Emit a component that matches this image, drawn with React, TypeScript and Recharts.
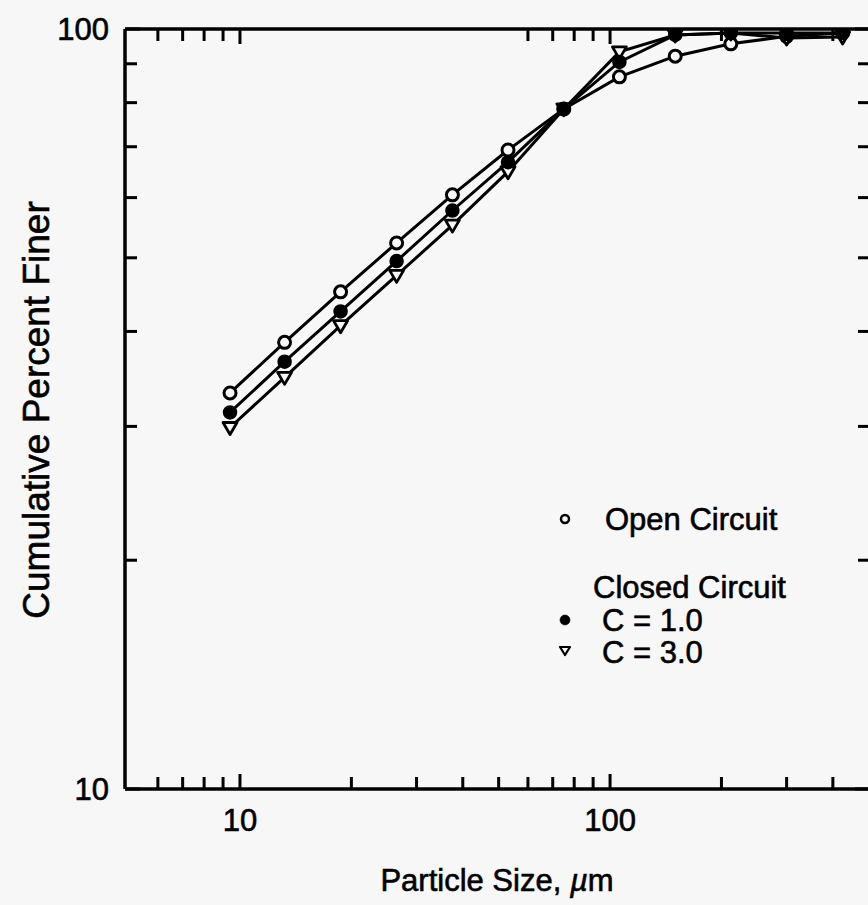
import React from 'react';
import { LineChart, Line, XAxis, YAxis, Customized } from 'recharts';

// Sieve sizes (µm)
const sizes = [9.4, 13.2, 18.7, 26.5, 37.5, 53, 75, 106, 150, 212, 300, 425];
// Cumulative percent finer
const openCircuit = [33.2, 38.7, 45.1, 52.3, 60.5, 69.3, 78.5, 86.5, 92.1, 95.6, 97.8, 98.8];
const closedC1 = [31.3, 36.5, 42.5, 49.5, 57.7, 66.8, 78.5, 90.5, 98.2, 98.8, 98.8, 98.8];
const closedC3 = [29.9, 34.8, 40.7, 47.4, 55.2, 64.9, 78.5, 93.3, 98.2, 98.8, 97.3, 97.6];

const xTicksBottom = [6, 7, 8, 9, 10, 20, 30, 40, 50, 60, 70, 80, 90, 100, 200, 300, 400];
const xTicksTop = [6, 7, 8, 9, 10, 60, 70, 80, 90, 100, 200, 300, 400];
const yTicks = [10, 20, 30, 40, 50, 60, 70, 80, 90, 100];
const tickLabels = [10, 100];

const data = sizes.map((s, i) => ({ size: s, open: openCircuit[i], c1: closedC1[i], c3: closedC3[i] }));

const BG = '#f7f7f7';
const FONT = '"Liberation Sans", Arial, Helvetica, sans-serif';
const FS = 31;
const TS = { stroke: '#000', strokeWidth: 0.6 };

const makeTick = (orient: string) => (props: any) => {
  const { x, y, payload, index } = props;
  const v = payload.value;
  const major = v === 10 || v === 100;
  const len = major ? 15 : 12;
  const show = tickLabels.includes(v);
  let line;
  let label = null;
  if (orient === 'bottom') {
    line = <line x1={x} y1={y} x2={x} y2={y - len} stroke="#000" strokeWidth={3} />;
    if (show) label = <text x={x} y={y + 42} textAnchor="middle" fontSize={FS} fontFamily={FONT} fill="#000" {...TS}>{v}</text>;
  } else if (orient === 'top') {
    line = <line x1={x} y1={y} x2={x} y2={y + len} stroke="#000" strokeWidth={3} />;
  } else if (orient === 'left') {
    line = <line x1={x} y1={y} x2={x + len} y2={y} stroke="#000" strokeWidth={3} />;
    if (show) label = <text x={x - 16} y={y + 11} textAnchor="end" fontSize={FS} fontFamily={FONT} fill="#000" {...TS}>{v}</text>;
  } else {
    line = <line x1={x} y1={y} x2={x - len} y2={y} stroke="#000" strokeWidth={3} />;
  }
  return (
    <g key={`${orient}-${index}`}>
      {line}
      {label}
    </g>
  );
};

const OpenDot = (p: any) => {
  if (p.cx == null || p.cy == null) return <g key={`o-${p.index}`} />;
  return <circle key={`o-${p.index}`} cx={p.cx} cy={p.cy} r={6} fill={BG} stroke="#000" strokeWidth={3} />;
};
const FilledDot = (p: any) => {
  if (p.cx == null || p.cy == null) return <g key={`f-${p.index}`} />;
  return <circle key={`f-${p.index}`} cx={p.cx} cy={p.cy} r={6.5} fill="#000" stroke="#000" strokeWidth={1.5} />;
};
const TriDot = (p: any) => {
  if (p.cx == null || p.cy == null) return <g key={`t-${p.index}`} />;
  const { cx, cy } = p;
  const pts = `${cx - 7},${cy - 5} ${cx + 7},${cy - 5} ${cx},${cy + 7}`;
  return <polygon key={`t-${p.index}`} points={pts} fill={BG} stroke="#000" strokeWidth={2.8} strokeLinejoin="round" />;
};

const Annotations = () => (
  <g fontFamily={FONT} fill="#000" {...TS}>
    <text x={49} y={410} transform="rotate(-90 49 410)" textAnchor="middle" fontSize={37}>
      Cumulative Percent Finer
    </text>
    <text x={497} y={891} textAnchor="middle" fontSize={FS}>
      Particle Size, <tspan fontStyle="italic">µ</tspan>m
    </text>
    <circle cx={565} cy={519} r={4} fill={BG} stroke="#000" strokeWidth={2.5} />
    <text x={605} y={530} fontSize={FS}>Open Circuit</text>
    <text x={593} y={598} fontSize={FS}>Closed Circuit</text>
    <circle cx={565} cy={620} r={5} fill="#000" />
    <text x={602} y={631} fontSize={FS}>C = 1.0</text>
    <polygon points="560,647 570,647 565,655" fill={BG} stroke="#000" strokeWidth={2.2} strokeLinejoin="round" />
    <text x={602} y={663} fontSize={FS}>C = 3.0</text>
  </g>
);

export default function App() {
  return (
    <div style={{ position: 'absolute', left: 0, top: 0, width: 868, height: 905, overflow: 'hidden', background: BG }}>
      <LineChart width={874} height={905} data={data} margin={{ top: 0, right: 0, bottom: 0, left: 0 }}>
        <XAxis
          xAxisId="bottom"
          dataKey="size"
          type="number"
          scale="log"
          domain={[4.89, 504]}
          allowDataOverflow
          ticks={xTicksBottom}
          interval={0}
          orientation="bottom"
          height={116}
          tickSize={0}
          tickMargin={0}
          tickLine={false}
          tick={makeTick('bottom')}
          axisLine={{ stroke: '#000', strokeWidth: 3.5 }}
        />
        <XAxis
          xAxisId="top"
          dataKey="size"
          type="number"
          scale="log"
          domain={[4.89, 504]}
          allowDataOverflow
          ticks={xTicksTop}
          interval={0}
          orientation="top"
          height={29}
          tickSize={0}
          tickMargin={0}
          tickLine={false}
          tick={makeTick('top')}
          axisLine={{ stroke: '#000', strokeWidth: 3.5 }}
        />
        <YAxis
          yAxisId="left"
          type="number"
          scale="log"
          domain={[10, 100]}
          allowDataOverflow
          ticks={yTicks}
          interval={0}
          orientation="left"
          width={125}
          tickSize={0}
          tickMargin={0}
          tickLine={false}
          tick={makeTick('left')}
          axisLine={{ stroke: '#000', strokeWidth: 3.5 }}
        />
        <YAxis
          yAxisId="right"
          type="number"
          scale="log"
          domain={[10, 100]}
          allowDataOverflow
          ticks={yTicks}
          interval={0}
          orientation="right"
          width={4}
          tickSize={0}
          tickMargin={0}
          tickLine={false}
          tick={makeTick('right')}
          axisLine={{ stroke: '#000', strokeWidth: 3.5 }}
        />
        <Line xAxisId="bottom" yAxisId="left" dataKey="open" stroke="#000" strokeWidth={3} dot={OpenDot} activeDot={false} isAnimationActive={false} />
        <Line xAxisId="bottom" yAxisId="left" dataKey="c3" stroke="#000" strokeWidth={3} dot={TriDot} activeDot={false} isAnimationActive={false} />
        <Line xAxisId="bottom" yAxisId="left" dataKey="c1" stroke="#000" strokeWidth={3} dot={FilledDot} activeDot={false} isAnimationActive={false} />
        <Customized component={Annotations} />
      </LineChart>
    </div>
  );
}
